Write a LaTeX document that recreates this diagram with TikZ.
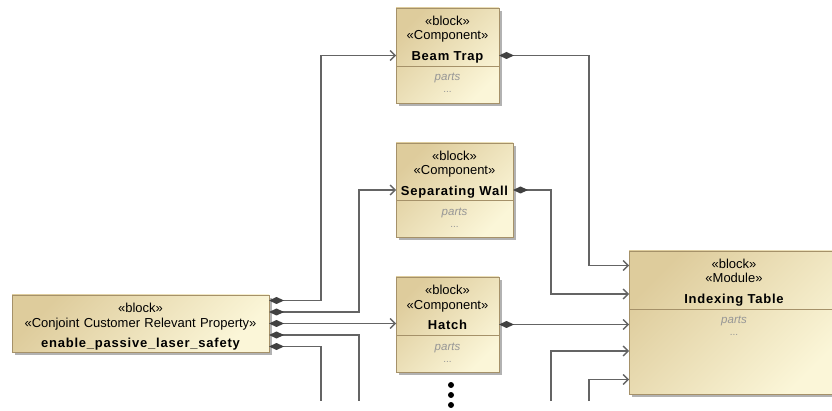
\documentclass[tikz,border=0pt]{standalone}
\usepackage{fontspec}
\setmainfont{Liberation Sans}
\newfontfamily\namefont{Liberation Sans}[LetterSpace=6]
\usepackage{tikz}
\usetikzlibrary{arrows.meta,positioning,shadows}

\definecolor{blkdark}{RGB}{222,204,156}
\definecolor{blklight}{RGB}{251,246,216}
\definecolor{blkline}{RGB}{165,145,105}
\definecolor{wire}{RGB}{100,100,100}
\definecolor{diam}{RGB}{65,65,65}
\definecolor{dimtext}{RGB}{150,150,150}

\newcommand{\blkname}[1]{{\namefont\bfseries #1}}
\newcommand{\partsrow}{{\fontsize{11.5}{13}\selectfont\itshape\color{dimtext}parts}\\[-2.5pt]{\fontsize{10}{12}\selectfont\color{dimtext}...}}

\begin{document}
\begin{tikzpicture}[x=1pt,y=-1pt,node distance=40pt,
 font=\fontsize{13}{14.5}\selectfont,
 blk/.style={draw=blkline,line width=0.9pt,top color=blkdark,bottom color=blklight,shading angle=45,
  drop shadow={shadow xshift=3pt,shadow yshift=-3pt,fill=black!60},
  inner sep=0pt,outer sep=0pt,align=center,text height=17.5pt},
 divide/.style={path picture={\draw[blkline,line width=0.9pt]
  ([yshift=-#1]path picture bounding box.north west) -- ([yshift=-#1]path picture bounding box.north east);}},
 comp/.style={draw=wire,line width=1.4pt,{Diamond[length=15pt,width=7pt,color=diam]}-{Straight Barb[length=5pt,width=10pt]}},
 compout/.style={draw=wire,line width=1.4pt,{Diamond[length=15pt,width=7pt,color=diam]}-},
 feed/.style={draw=wire,line width=1.4pt,-{Straight Barb[length=5pt,width=10pt]}}]
\useasboundingbox (0,0) rectangle (832,411);

\node[blk,divide=58pt,text width=103pt,text depth=77.5pt] (beam) at (447.5,55.5)
 {«block»\\«Component»\\[6.5pt]\blkname{Beam Trap}\\[5.5pt]\partsrow};
\node[blk,divide=57pt,text width=117pt,text depth=76.5pt,below=of beam.south west,anchor=north west] (wall)
 {«block»\\«Component»\\[6.5pt]\blkname{Separating Wall}\\[5.5pt]\partsrow};
\node[blk,divide=58pt,text width=103pt,text depth=77.5pt,below=of wall.south west,anchor=north west] (hatch)
 {«block»\\«Component»\\[6.5pt]\blkname{Hatch}\\[5.5pt]\partsrow};
\node[blk,divide=58pt,text width=210pt,text depth=125.5pt] (table) at (734,322.5)
 {«block»\\«Module»\\[6.5pt]\blkname{Indexing Table}\\[5.5pt]\partsrow};
\node[blk,text width=257pt,text depth=39.5pt] (prop) at (140.5,323.5)
 {«block»\\«Conjoint Customer Relevant Property»\\[5.5pt]\blkname{enable\_passive\_laser\_safety}};

\coordinate (propdownA) at (359,401);
\coordinate (propdownB) at (321,401);
\coordinate (tableupA) at (551,401);
\coordinate (tableupB) at (589,401);

\draw[comp] ([yshift=23pt]prop.east) -| ([xshift=-75pt]beam.west) -- (beam.west);
\draw[comp] ([yshift=11.5pt]prop.east) -| ([xshift=-37pt]wall.west) -- (wall.west);
\draw[comp] (prop.east) -- (prop.east -| hatch.west);
\draw[compout] ([yshift=-11.5pt]prop.east) -| (propdownA);
\draw[compout] ([yshift=-23pt]prop.east) -| (propdownB);

\draw[comp] (beam.east) -| ([xshift=-40pt,yshift=57pt]table.west) -- ([yshift=57pt]table.west);
\draw[comp] (wall.east) -| ([xshift=-78pt,yshift=28.5pt]table.west) -- ([yshift=28.5pt]table.west);
\draw[comp] (hatch.east) -- (hatch.east -| table.west);
\draw[feed] (tableupA) |- ([yshift=-28.5pt]table.west);
\draw[feed] (tableupB) |- ([yshift=-57pt]table.west);

\fill (451,385) circle (3pt) (451,395) circle (3pt) (451,405) circle (3pt);
\end{tikzpicture}
\end{document}
